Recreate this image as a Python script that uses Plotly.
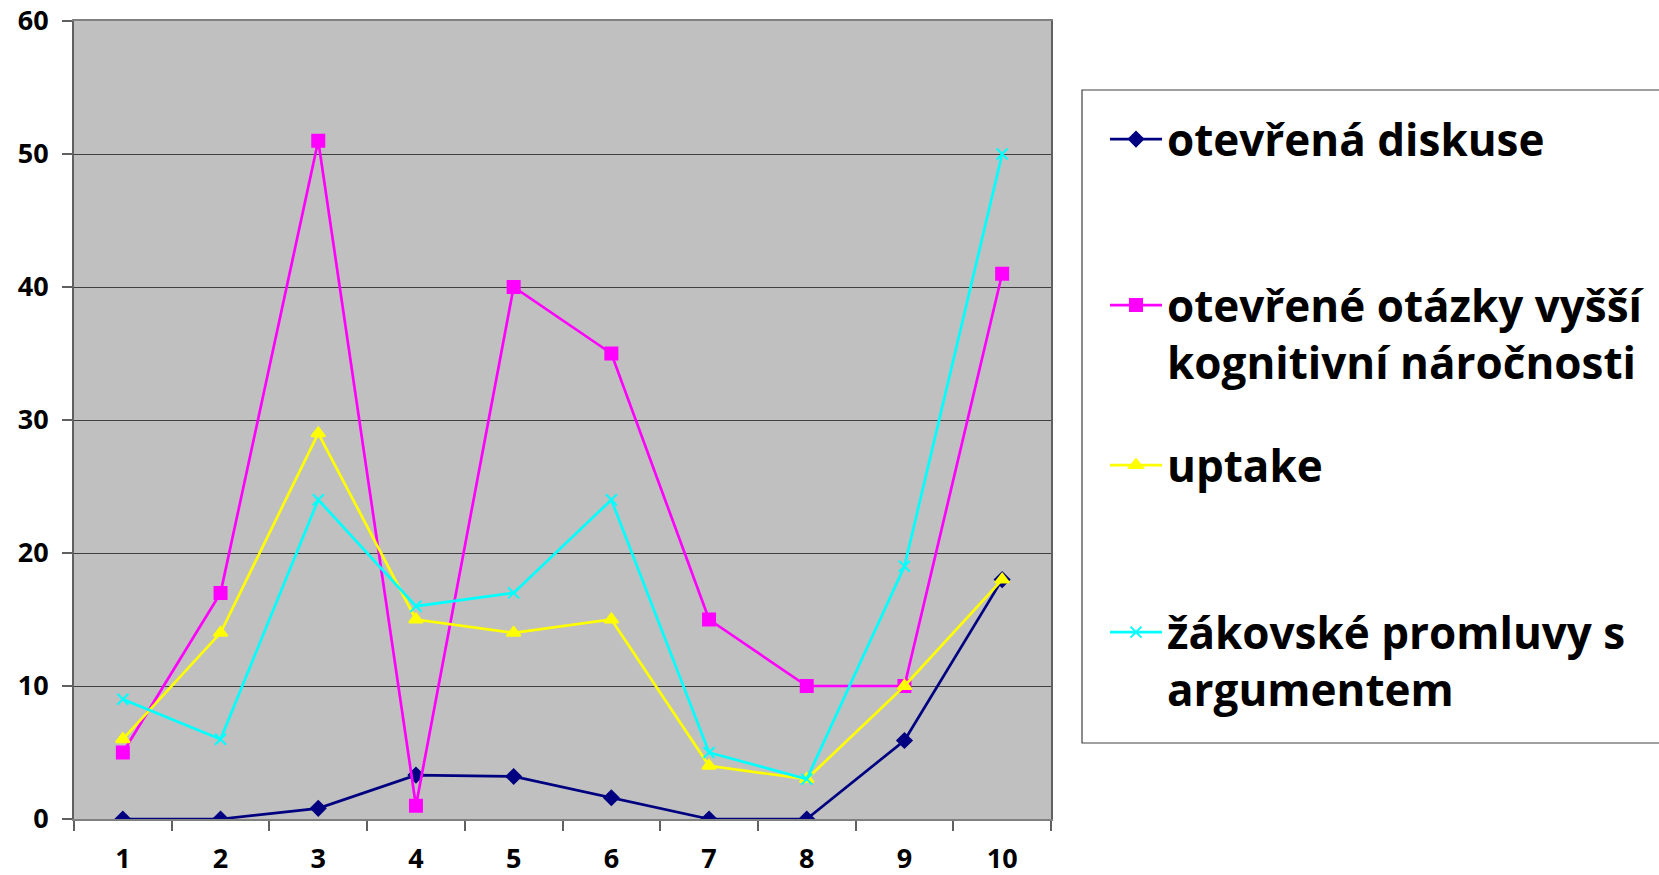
import plotly.graph_objects as go

categories = [1, 2, 3, 4, 5, 6, 7, 8, 9, 10]
tick_labels = ["1", "2", "3", "4", "5", "6", "7", "8", "9", "10"]

otevrena_diskuse = [0, 0, 0.8, 3.3, 3.2, 1.6, 0, 0, 5.9, 18]
otevrene_otazky = [5, 17, 51, 1, 40, 35, 15, 10, 10, 41]
uptake = [6, 14, 29, 15, 14, 15, 4, 3, 10, 18]
zakovske_promluvy = [9, 6, 24, 16, 17, 24, 5, 3, 19, 50]

series_names = [
    "otevřená diskuse",
    "otevřené otázky vyšší<br>kognitivní náročnosti",
    "uptake",
    "žákovské promluvy s<br>argumentem",
]
series_values = [otevrena_diskuse, otevrene_otazky, uptake, zakovske_promluvy]
colors = ["#000080", "#FF00FF", "#FFFF00", "#00FFFF"]
symbols = ["diamond", "square", "triangle-up", "x-thin-open"]
msizes = [11, 12, 12, 11]
legend_ids = ["legend", "legend2", "legend3", "legend4"]

W, H = 1659, 875
L, R, T, B = 74, 1051, 21, 819


def px_x(sx):
    return (sx - L) / (R - L)


def px_y(sy):
    return (B - sy) / (B - T)


FONT = "Open Sans"

fig = go.Figure()
for name, vals, c, s, ms, lg in zip(series_names, series_values, colors, symbols, msizes, legend_ids):
    fig.add_trace(go.Scatter(
        x=categories, y=vals, name=name, mode="lines+markers",
        line=dict(color=c, width=2.7),
        marker=dict(symbol=s, size=ms, color=c, line=dict(color=c, width=2)),
        legend=lg,
    ))

# screen-y of legend tops
legend_tops = [104, 270, 430, 597]
legend_common = dict(
    font=dict(family=FONT, size=44, color="black", weight="bold"),
    bgcolor="rgba(0,0,0,0)", borderwidth=0, xanchor="left", yanchor="top",
    itemwidth=52, valign="top", tracegroupgap=0,
)
layout_legends = {}
for lg, top in zip(legend_ids, legend_tops):
    layout_legends[lg] = dict(x=px_x(1105), y=px_y(top), **legend_common)

fig.update_layout(
    width=W, height=H,
    margin=dict(l=L, r=W - R, t=T, b=H - B, autoexpand=False),
    paper_bgcolor="white",
    plot_bgcolor="#C0C0C0",
    showlegend=True,
    **layout_legends,
    xaxis=dict(
        range=[0.5, 10.5], tickvals=categories, ticktext=tick_labels,
        ticks="", showgrid=False, zeroline=False, automargin=False,
        showline=True, linecolor="#808080", linewidth=2, mirror=True,
        tickfont=dict(family=FONT, size=27, color="black", weight="bold"),
        ticklabelstandoff=15,
        minor=dict(tick0=0.5, dtick=1, ticks="outside", ticklen=10, tickcolor="#606060", tickwidth=1.5, showgrid=False),
    ),
    yaxis=dict(
        range=[0, 60], dtick=10, ticks="outside", ticklen=10, tickcolor="#606060", tickwidth=1.5,
        showgrid=True, gridcolor="#404040", gridwidth=1.3, zeroline=False, automargin=False,
        showline=True, linecolor="#606060", linewidth=2, mirror=True,
        tickfont=dict(family=FONT, size=27, color="black", weight="bold"),
        ticklabelstandoff=8,
    ),
)

# legend frame
fig.add_shape(type="rect", xref="paper", yref="paper",
              x0=px_x(1082), x1=px_x(1665), y0=px_y(743), y1=px_y(90),
              line=dict(color="#404040", width=1.2), fillcolor="rgba(0,0,0,0)", layer="below")

fig.write_html(
    "out.html",
    config={"displayModeBar": False},
    post_script="document.body.style.margin='0px';document.body.style.overflow='hidden';",
)
